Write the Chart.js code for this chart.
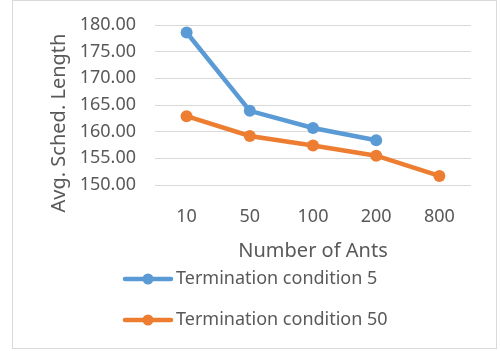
<!DOCTYPE html>
<html>
<head>
<meta charset="utf-8">
<script src="https://cdn.jsdelivr.net/npm/chart.js@4/dist/chart.umd.min.js"></script>
<style>
  html, body { margin: 0; padding: 0; background: #fff; }
  #wrap { width: 500px; height: 351px; }
</style>
</head>
<body>
<div id="wrap"><canvas id="chart" width="500" height="351"></canvas></div>
<script>
const ants = ["10", "50", "100", "200", "800"];
const cond5 = [178.6, 163.9, 160.7, 158.4, null];
const cond50 = [162.9, 159.2, 157.4, 155.5, 151.7];
const seriesNames = ["Termination condition 5", "Termination condition 50"];
const yTitle = "Avg. Sched. Length";
const xTitle = "Number of Ants";

const FONT = "'Noto Sans', sans-serif";
const TEXT = "#595959";

// frame round the whole chart, y title (sits lower than the plot centre) and legend
const framePlugin = {
  id: "frame",
  beforeDraw(chart) {
    const ctx = chart.ctx;
    ctx.save();
    ctx.fillStyle = "#fff";
    ctx.fillRect(0, 0, chart.width, chart.height);
    ctx.strokeStyle = "#d9d9d9";
    ctx.lineWidth = 1;
    ctx.strokeRect(12.5, 0.5, 484, 348);
    ctx.restore();
  },
  afterDraw(chart) {
    const ctx = chart.ctx;
    ctx.save();
    ctx.translate(59, 123);
    ctx.rotate(-Math.PI / 2);
    ctx.fillStyle = TEXT;
    ctx.font = "20px " + FONT;
    ctx.textAlign = "center";
    ctx.textBaseline = "middle";
    ctx.fillText(yTitle, 0, 0);
    ctx.restore();

    const rows = [279, 320];
    ctx.save();
    chart.data.datasets.forEach((ds, i) => {
      const y = rows[i];
      ctx.strokeStyle = ds.borderColor;
      ctx.lineWidth = 4.5;
      ctx.lineCap = "round";
      ctx.beginPath();
      ctx.moveTo(125, y);
      ctx.lineTo(171, y);
      ctx.stroke();
      ctx.fillStyle = ds.borderColor;
      ctx.beginPath();
      ctx.arc(148, y, 5.5, 0, Math.PI * 2);
      ctx.fill();
      ctx.fillStyle = TEXT;
      ctx.font = "18px " + FONT;
      ctx.textBaseline = "middle";
      ctx.fillText(ds.label, 176, y);
    });
    ctx.restore();
  },
};

const makeChart = () => {
  const ctx = document.getElementById("chart").getContext("2d");
  new Chart(ctx, {
    type: "line",
    data: {
      labels: ants,
      datasets: [
        {
          label: seriesNames[0],
          data: cond5,
          borderColor: "#5b9bd5",
          backgroundColor: "#5b9bd5",
          borderWidth: 4.5,
          pointRadius: 6,
          pointBorderWidth: 0,
          tension: 0,
          spanGaps: false,
        },
        {
          label: seriesNames[1],
          data: cond50,
          borderColor: "#ed7d31",
          backgroundColor: "#ed7d31",
          borderWidth: 4.5,
          pointRadius: 6,
          pointBorderWidth: 0,
          tension: 0,
        },
      ],
    },
    options: {
      responsive: false,
      animation: false,
      layout: { padding: { left: 40, right: 29, top: 25, bottom: 86 } },
      plugins: {
        legend: { display: false },
        tooltip: { enabled: false },
      },
      scales: {
        x: {
          offset: true,
          grid: { display: false },
          border: { display: false },
          ticks: { color: TEXT, font: { family: FONT, size: 18 }, padding: 13 },
          title: {
            display: true,
            text: xTitle,
            color: TEXT,
            font: { family: FONT, size: 20 },
            padding: { top: 0, bottom: 2 },
          },
          afterFit(scale) {
            scale.height = 80;
            scale.paddingLeft = 0;
            scale.paddingRight = 0;
          },
        },
        y: {
          min: 150,
          max: 180,
          grid: { color: "#d9d9d9", lineWidth: 1, drawTicks: false },
          border: { display: false },
          ticks: {
            stepSize: 5,
            color: TEXT,
            font: { family: FONT, size: 18 },
            padding: 19,
            callback: function (value) {
              return value.toFixed(2);
            },
          },
          afterFit(scale) {
            scale.width = 115;
            scale.paddingTop = 0;
            scale.paddingBottom = 0;
          },
        },
      },
    },
    plugins: [framePlugin],
  });
};

makeChart();
</script>
</body>
</html>
